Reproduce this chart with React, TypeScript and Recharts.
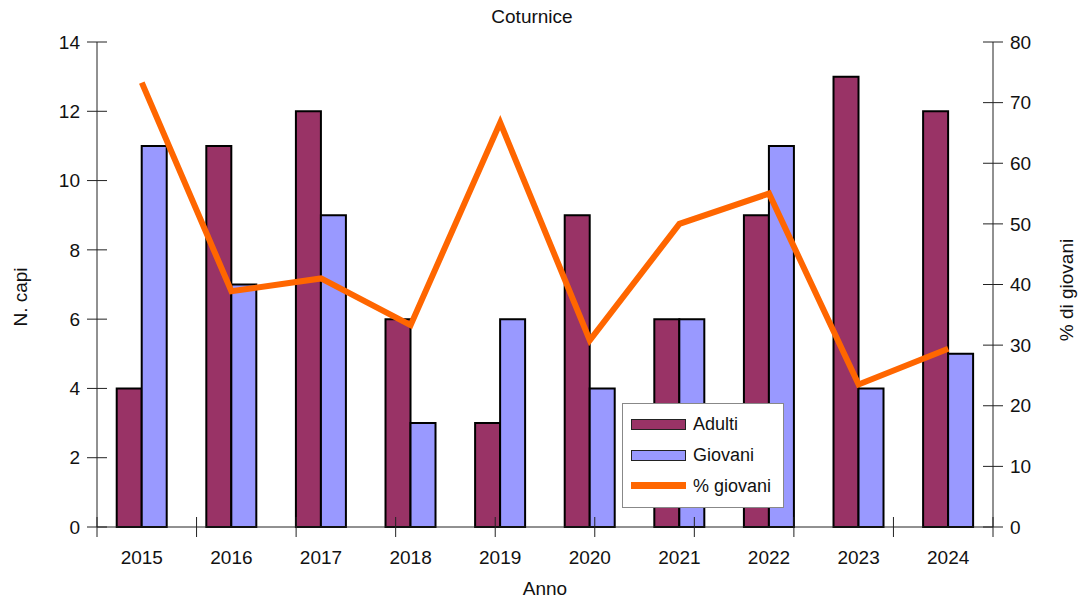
import React from 'react'
import {
  ComposedChart,
  Bar,
  Line,
  XAxis,
  YAxis,
} from 'recharts'

const years = ['2015', '2016', '2017', '2018', '2019', '2020', '2021', '2022', '2023', '2024']
const adulti = [4, 11, 12, 6, 3, 9, 6, 9, 13, 12]
const giovani = [11, 7, 9, 3, 6, 4, 6, 11, 4, 5]
const pctGiovani = [73.3, 38.9, 41, 33.3, 66.7, 30.8, 50, 55, 23.5, 29.4]
const leftTicks = [0, 2, 4, 6, 8, 10, 12, 14]
const rightTicks = [0, 10, 20, 30, 40, 50, 60, 70, 80]
const boundaryTicks = [0, 1, 2, 3, 4, 5, 6, 7, 8, 9, 10]

const chartData = years.map((y, i) => ({
  anno: y,
  adulti: adulti[i],
  giovani: giovani[i],
  pct: pctGiovani[i],
}))

const FONT = '"Liberation Sans", Arial, sans-serif'
const ADULTI = '#993366'
const GIOVANI = '#9999ff'
const ORANGE = '#ff6600'
const FS = 19

const LeftTick = (props: any) => {
  const { x, y, payload } = props
  return (
    <g>
      <line x1={x - 10} x2={x + 10} y1={y} y2={y} stroke="#222" strokeWidth={1} />
      <text x={x - 17} y={y} dy="0.35em" textAnchor="end" fontSize={FS} fill="#111" fontFamily={FONT}>
        {payload.value}
      </text>
    </g>
  )
}

const RightTick = (props: any) => {
  const { x, y, payload } = props
  return (
    <g>
      <line x1={x - 10} x2={x + 10} y1={y} y2={y} stroke="#222" strokeWidth={1} />
      <text x={x + 17} y={y} dy="0.35em" textAnchor="start" fontSize={FS} fill="#111" fontFamily={FONT}>
        {payload.value}
      </text>
    </g>
  )
}

const YearTick = (props: any) => {
  const { x, y, payload } = props
  return (
    <text x={x} y={y + 36} textAnchor="middle" fontSize={FS} fill="#111" fontFamily={FONT}>
      {payload.value}
    </text>
  )
}

const BoundaryTick = (props: any) => {
  const { x, y } = props
  return <line x1={x} x2={x} y1={y - 10} y2={y + 10} stroke="#222" strokeWidth={1} />
}

const LegendBox = () => (
  <div
    style={{
      position: 'absolute',
      left: 622,
      top: 403,
      width: 162,
      height: 105,
      background: '#fff',
      border: '1px solid #888',
      boxSizing: 'border-box',
      fontFamily: FONT,
      fontSize: 18,
      color: '#111',
    }}
  >
    <div style={{ position: 'absolute', left: 8, top: 15, width: 55, height: 11, background: ADULTI, border: '1px solid #222', boxSizing: 'border-box' }} />
    <div style={{ position: 'absolute', left: 70, top: 10, lineHeight: '20px' }}>Adulti</div>
    <div style={{ position: 'absolute', left: 8, top: 46, width: 55, height: 11, background: GIOVANI, border: '1px solid #222', boxSizing: 'border-box' }} />
    <div style={{ position: 'absolute', left: 70, top: 41, lineHeight: '20px' }}>Giovani</div>
    <div style={{ position: 'absolute', left: 8, top: 78, width: 55, height: 7, background: ORANGE }} />
    <div style={{ position: 'absolute', left: 70, top: 72, lineHeight: '20px' }}>% giovani</div>
  </div>
)

export default function App() {
  return (
    <div style={{ position: 'absolute', left: 0, top: 0, width: 1080, height: 600, background: '#fff', fontFamily: FONT }}>
      <ComposedChart
        width={1080}
        height={600}
        data={chartData}
        margin={{ top: 42, right: 30, left: 40, bottom: 33 }}
        barCategoryGap="22%"
        barGap={0}
      >
        <XAxis
          xAxisId="bounds"
          type="number"
          domain={[0, 10]}
          ticks={boundaryTicks}
          height={1}
          axisLine={false}
          tickLine={false}
          tickSize={0}
          tickMargin={0}
          tick={<BoundaryTick />}
          interval={0}
        />
        <XAxis
          dataKey="anno"
          xAxisId="cat"
          height={39}
          axisLine={false}
          tickLine={false}
          tickSize={0}
          tickMargin={0}
          tick={<YearTick />}
          interval={0}
        />
        <XAxis
          xAxisId="top"
          orientation="top"
          dataKey="anno"
          height={0}
          axisLine={{ stroke: '#808080', strokeWidth: 2 }}
          tick={false}
          tickLine={false}
        />
        <YAxis
          yAxisId="left"
          width={57}
          domain={[0, 14]}
          ticks={leftTicks}
          interval={0}
          axisLine={{ stroke: '#222', strokeWidth: 1 }}
          tickLine={false}
          tickSize={0}
          tickMargin={0}
          tick={<LeftTick />}
        />
        <YAxis
          yAxisId="right"
          orientation="right"
          width={57}
          domain={[0, 80]}
          ticks={rightTicks}
          interval={0}
          axisLine={{ stroke: '#222', strokeWidth: 1 }}
          tickLine={false}
          tickSize={0}
          tickMargin={0}
          tick={<RightTick />}
        />
        <Bar
          dataKey="adulti"
          name="Adulti"
          xAxisId="cat"
          yAxisId="left"
          fill={ADULTI}
          stroke="#000"
          strokeWidth={2}
          isAnimationActive={false}
        />
        <Bar
          dataKey="giovani"
          name="Giovani"
          xAxisId="cat"
          yAxisId="left"
          fill={GIOVANI}
          stroke="#000"
          strokeWidth={2}
          isAnimationActive={false}
        />
        <Line
          dataKey="pct"
          name="% giovani"
          xAxisId="cat"
          yAxisId="right"
          stroke={ORANGE}
          strokeWidth={6}
          dot={false}
          activeDot={false}
          strokeLinejoin="miter"
          isAnimationActive={false}
        />
        <XAxis
          xAxisId="baseline"
          type="number"
          domain={[0, 10]}
          orientation="top"
          mirror
          hide
        />
      </ComposedChart>
      <svg width={1080} height={600} style={{ position: 'absolute', left: 0, top: 0, pointerEvents: 'none' }}>
        <line x1={97} x2={993} y1={527} y2={527} stroke="#222" strokeWidth={1} />
      </svg>
      <LegendBox />
      <div style={{ position: 'absolute', left: 432, width: 200, top: 6, textAlign: 'center', fontSize: FS, color: '#111' }}>
        Coturnice
      </div>
      <div style={{ position: 'absolute', left: 445, width: 200, top: 578, textAlign: 'center', fontSize: FS, color: '#111' }}>
        Anno
      </div>
      <div
        style={{
          position: 'absolute',
          left: -29,
          top: 286,
          width: 100,
          height: 22,
          lineHeight: '22px',
          textAlign: 'center',
          fontSize: FS,
          color: '#111',
          transform: 'rotate(-90deg)',
        }}
      >
        N. capi
      </div>
      <div
        style={{
          position: 'absolute',
          left: 1007,
          top: 279,
          width: 120,
          height: 22,
          lineHeight: '22px',
          textAlign: 'center',
          fontSize: FS,
          color: '#111',
          transform: 'rotate(-90deg)',
        }}
      >
        % di giovani
      </div>
    </div>
  )
}
